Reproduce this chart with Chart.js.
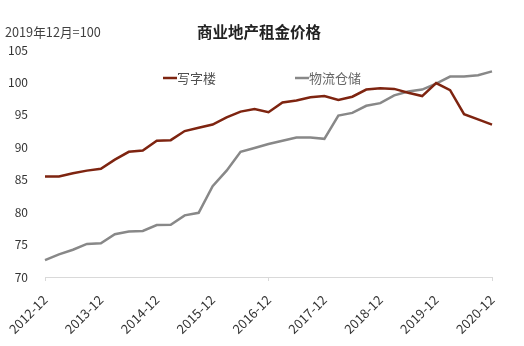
<!DOCTYPE html>
<html>
<head>
<meta charset="utf-8">
<script src="https://cdn.jsdelivr.net/npm/chart.js@4.4.0/dist/chart.umd.min.js"></script>
<style>
  html, body { margin: 0; padding: 0; background: #ffffff; }
  #wrap { width: 524px; height: 346px; }
</style>
</head>
<body>
<div id="wrap"><canvas id="c" width="524" height="346"></canvas></div>
<script>
const titleText = "商业地产租金价格";
const unitText = "2019年12月=100";

const categories = [
  "2012-12","2013-03","2013-06","2013-09","2013-12","2014-03","2014-06","2014-09",
  "2014-12","2015-03","2015-06","2015-09","2015-12","2016-03","2016-06","2016-09",
  "2016-12","2017-03","2017-06","2017-09","2017-12","2018-03","2018-06","2018-09",
  "2018-12","2019-03","2019-06","2019-09","2019-12","2020-03","2020-06","2020-09",
  "2020-12"
];

const officeName = "写字楼";
const officeValues = [
  85.5, 85.5, 86.0, 86.4, 86.7, 88.1, 89.3, 89.5,
  91.0, 91.1, 92.5, 93.0, 93.5, 94.6, 95.5, 95.9,
  95.4, 96.9, 97.2, 97.7, 97.9, 97.3, 97.8, 98.9,
  99.1, 99.0, 98.4, 97.9, 99.9, 98.8, 95.1, 94.3,
  93.5
];

const logisticsName = "物流仓储";
const logisticsValues = [
  72.6, 73.5, 74.2, 75.1, 75.2, 76.6, 77.0, 77.1,
  78.0, 78.05, 79.5, 79.9, 84.0, 86.4, 89.3, 89.9,
  90.5, 91.0, 91.5, 91.5, 91.3, 94.9, 95.3, 96.4,
  96.8, 98.0, 98.6, 98.9, 99.8, 100.9, 100.9, 101.1,
  101.7
];

const yTicks = [70, 75, 80, 85, 90, 95, 100, 105];

const FONT = "'Noto Sans CJK SC', 'Noto Sans', sans-serif";

const textPlugin = {
  id: 'textPlugin',
  afterDraw(chart) {
    const ctx = chart.ctx;
    ctx.save();
    ctx.textBaseline = 'middle';
    // unit label
    ctx.fillStyle = '#404040';
    ctx.font = "12.7px " + FONT;
    ctx.textAlign = 'left';
    ctx.fillText(unitText, 5, 32);
    // title
    ctx.fillStyle = '#222222';
    ctx.font = "bold 15.5px " + FONT;
    ctx.textAlign = 'center';
    ctx.fillText(titleText, 259, 32);
    // legend
    const items = [
      { ds: chart.data.datasets[0], x: 163, tc: '#505050' },
      { ds: chart.data.datasets[1], x: 295, tc: '#666666' }
    ];
    ctx.font = "13px " + FONT;
    ctx.textAlign = 'left';
    items.forEach(it => {
      ctx.strokeStyle = it.ds.borderColor;
      ctx.lineWidth = 2.5;
      ctx.beginPath();
      ctx.moveTo(it.x, 78);
      ctx.lineTo(it.x + 14, 78);
      ctx.stroke();
      ctx.fillStyle = it.tc;
      ctx.fillText(it.ds.label, it.x + 14, 78);
    });
    ctx.restore();
  }
};

new Chart(document.getElementById('c'), {
  type: 'line',
  data: {
    labels: categories,
    datasets: [
      {
        label: officeName,
        data: officeValues,
        borderColor: '#7e2410',
        backgroundColor: '#7e2410',
        borderWidth: 2.5,
        pointRadius: 0,
        tension: 0,
        fill: false
      },
      {
        label: logisticsName,
        data: logisticsValues,
        borderColor: '#888888',
        backgroundColor: '#888888',
        borderWidth: 2.5,
        pointRadius: 0,
        tension: 0,
        fill: false
      }
    ]
  },
  options: {
    responsive: false,
    animation: false,
    devicePixelRatio: 1,
    layout: { padding: { left: 0, right: 32, top: 50, bottom: 0 } },
    plugins: {
      legend: { display: false },
      title: { display: false },
      tooltip: { enabled: false }
    },
    scales: {
      x: {
        type: 'category',
        offset: false,
        grid: {
          display: true,
          drawOnChartArea: false,
          drawTicks: true,
          tickLength: 4,
          color: (c) => (c.index % 4 === 0 ? '#d9d9d9' : 'rgba(0,0,0,0)')
        },
        border: { display: true, color: '#d9d9d9', width: 1 },
        ticks: {
          autoSkip: false,
          maxRotation: 45,
          minRotation: 45,
          padding: 11,
          color: '#333333',
          font: { family: FONT, size: 13 },
          callback: function (value, index) {
            return index % 4 === 0 ? this.getLabelForValue(value) : null;
          }
        },
        afterFit(scale) { scale.height = 69; }
      },
      y: {
        min: 70,
        max: 105,
        grid: { display: false },
        border: { display: false },
        afterBuildTicks(scale) { scale.ticks = yTicks.map(v => ({ value: v })); },
        ticks: {
          padding: 9,
          color: '#333333',
          font: { family: FONT, size: 12 }
        },
        afterFit(scale) { scale.width = 45; }
      }
    }
  },
  plugins: [textPlugin]
});
</script>
</body>
</html>
